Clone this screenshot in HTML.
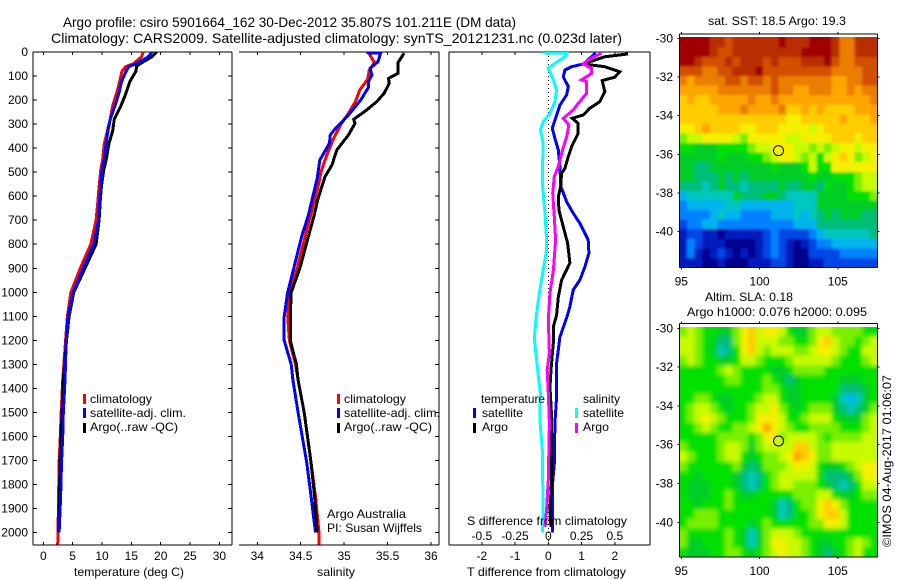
<!DOCTYPE html>
<html lang="en">
<head>
<meta charset="utf-8">
<title>Argo profile</title>
<style>
html,body{margin:0;padding:0;background:#fff;width:900px;height:580px;overflow:hidden}
svg{display:block}
text{font-family:"Liberation Sans",sans-serif;font-size:12px;fill:#000}
.lg{font-size:12px}
.rule{stroke:#000;stroke-width:1;fill:none;shape-rendering:crispEdges}
.prof{fill:none;stroke-width:3;stroke-linejoin:miter;shape-rendering:crispEdges}
</style>
</head>
<body>
<svg id="figure" xmlns="http://www.w3.org/2000/svg" width="900" height="580" viewBox="0 0 900 580">
<defs>
<clipPath id="clip-t"><rect x="33" y="52" width="199" height="493"/></clipPath>
<clipPath id="clip-s"><rect x="239" y="52" width="200" height="493"/></clipPath>
<clipPath id="clip-d"><rect x="449" y="52" width="200" height="493"/></clipPath>
<clipPath id="clip-sst"><rect x="680" y="37" width="198" height="230"/></clipPath>
<clipPath id="clip-sla"><rect x="680" y="327" width="198" height="230"/></clipPath>
<filter id="soft-sst" x="-5%" y="-5%" width="110%" height="110%"><feGaussianBlur stdDeviation="1.2"/></filter>
<filter id="soft-sla" x="-5%" y="-5%" width="110%" height="110%"><feGaussianBlur stdDeviation="2.2"/></filter>
</defs>
<text x="63" y="27" style="font-size:14px" textLength="453" lengthAdjust="spacingAndGlyphs">Argo profile: csiro 5901664_162 30-Dec-2012 35.807S 101.211E (DM data)</text>
<text x="51" y="43" style="font-size:14px" textLength="571" lengthAdjust="spacingAndGlyphs">Climatology: CARS2009. Satellite-adjusted climatology: synTS_20121231.nc (0.023d later)</text>
<g id="plots"></g>

<g>
<rect x="83" y="394" width="3" height="10" fill="#f00"/>
<text x="90" y="403" class="lg" textLength="62" lengthAdjust="spacingAndGlyphs">climatology</text>
<rect x="83" y="408" width="3" height="10" fill="#00f"/>
<text x="90" y="417" class="lg" textLength="96" lengthAdjust="spacingAndGlyphs">satellite-adj. clim.</text>
<rect x="83" y="423" width="3" height="10" fill="#000"/>
<text x="90" y="431" class="lg" textLength="88" lengthAdjust="spacingAndGlyphs">Argo(..raw -QC)</text>
</g>
<g>
<rect x="337" y="394" width="3" height="10" fill="#f00"/>
<text x="344" y="403" class="lg" textLength="62" lengthAdjust="spacingAndGlyphs">climatology</text>
<rect x="337" y="408" width="3" height="10" fill="#00f"/>
<text x="344" y="417" class="lg" textLength="96" lengthAdjust="spacingAndGlyphs">satellite-adj. clim.</text>
<rect x="337" y="423" width="3" height="10" fill="#000"/>
<text x="344" y="431" class="lg" textLength="88" lengthAdjust="spacingAndGlyphs">Argo(..raw -QC)</text>
<text x="327" y="518" class="lg" textLength="79" lengthAdjust="spacingAndGlyphs">Argo Australia</text>
<text x="327" y="532" class="lg" textLength="95" lengthAdjust="spacingAndGlyphs">PI: Susan Wijffels</text>
</g>
<g>
<text x="481" y="403" class="lg" textLength="64" lengthAdjust="spacingAndGlyphs">temperature</text>
<rect x="473" y="408" width="3" height="10" fill="#00f"/>
<text x="482" y="417" class="lg" textLength="41" lengthAdjust="spacingAndGlyphs">satellite</text>
<rect x="473" y="423" width="3" height="10" fill="#000"/>
<text x="482" y="431" class="lg" textLength="26" lengthAdjust="spacingAndGlyphs">Argo</text>
<text x="583" y="403" class="lg" textLength="37" lengthAdjust="spacingAndGlyphs">salinity</text>
<rect x="575" y="408" width="3" height="10" fill="#0ff"/>
<text x="583" y="417" class="lg" textLength="41" lengthAdjust="spacingAndGlyphs">satellite</text>
<rect x="575" y="423" width="3" height="10" fill="#f0f"/>
<text x="583" y="431" class="lg" textLength="26" lengthAdjust="spacingAndGlyphs">Argo</text>
</g>

<text x="74" y="576" textLength="110" lengthAdjust="spacingAndGlyphs">temperature (deg C)</text>
<text x="317" y="576" textLength="38" lengthAdjust="spacingAndGlyphs">salinity</text>
<text x="467" y="576" textLength="159" lengthAdjust="spacingAndGlyphs">T difference from climatology</text>
<text x="467" y="525" textLength="160" lengthAdjust="spacingAndGlyphs">S difference from climatology</text>

<text x="708" y="25" textLength="138" lengthAdjust="spacingAndGlyphs">sat. SST: 18.5 Argo: 19.3</text>
<text x="705" y="301" textLength="88" lengthAdjust="spacingAndGlyphs">Altim. SLA: 0.18</text>
<text x="687" y="316" textLength="180" lengthAdjust="spacingAndGlyphs">Argo h1000: 0.076 h2000: 0.095</text>
<text transform="translate(891 547) rotate(-90)" textLength="172" lengthAdjust="spacingAndGlyphs">©IMOS 04-Aug-2017 01:06:07</text>
</svg>

<script>
// ---------- profile data ----------
const depthTicks = [0,100,200,300,400,500,600,700,800,900,1000,1100,1200,1300,1400,1500,1600,1700,1800,1900,2000];
const tempTicks = [0,5,10,15,20,25,30];
const salTicks = [34,34.5,35,35.5,36];
const salTickLabels = ['34','34.5','35','35.5','36'];
const tDiffTicks = [-2,-1,0,1,2];
const tDiffLabels = ['-2','-1','0','1','2'];
const sDiffTicks = [-0.5,-0.25,0,0.25,0.5];
const sDiffLabels = ['-0.5','-0.25','0','0.25','0.5'];

const tempDepth = [0,20,50,60,80,125,170,225,280,330,380,450,490,560,620,700,800,900,1000,1100,1200,1365,1500,1600,1710,1850,2000,2050];
const tempClim = [17.0,16.75,15.3,14.1,13.4,13.0,12.5,11.8,11.4,10.9,10.4,10.1,9.8,9.5,9.3,9.0,8.1,6.3,4.7,4.1,3.8,3.3,3.05,2.9,2.7,2.6,2.5,2.45];
const tempSat = [18.5,17.9,15.8,14.6,14.1,13.3,12.9,12.2,11.4,11.0,10.7,10.4,10.0,9.8,9.6,9.4,8.6,6.8,5.1,4.2,3.9,3.7,3.4,3.3,3.1,2.95,2.7];
const tempArgo = [19.3,18.5,16.4,15.9,15.8,14.7,14.1,13.2,12.1,11.8,11.2,10.7,10.3,9.9,9.7,9.5,9.0,7.1,5.2,4.4,3.95,3.4,3.2,3.0,2.85,2.75,2.6];

const salClimDepth = [3,44,75,114,158,207,255,297,359,429,491,574,657,768,900,1000,1100,1200,1300,1365,1500,1710,1850,2000,2050];
const salClim = [35.28,35.35,35.29,35.27,35.18,35.13,35.05,34.97,34.88,34.80,34.74,34.69,34.63,34.55,34.46,34.37,34.35,34.37,34.44,34.47,34.54,34.62,34.67,34.71,34.71];
const salSatDepth = [3,5,40,68,96,123,147,200,262,318,345,380,450,526,616,678,768,900,1000,1100,1200,1300,1365,1500,1710,1850,2000];
const salSat = [35.26,35.42,35.39,35.30,35.32,35.28,35.28,35.19,35.05,34.90,34.84,34.83,34.72,34.69,34.63,34.59,34.51,34.42,34.35,34.31,34.31,34.39,34.41,34.47,34.57,34.62,34.67];
const salArgoDepth = [5,44,89,110,130,172,207,244,280,297,345,408,470,519,609,685,778,900,1000,1100,1200,1300,1365,1500,1710,1850,2000];
const salArgo = [35.69,35.62,35.62,35.51,35.52,35.46,35.375,35.25,35.11,35.125,35.05,34.915,34.86,34.78,34.70,34.65,34.58,34.49,34.39,34.38,34.38,34.45,34.47,34.54,34.62,34.66,34.69];

const dTSatDepth = [3,33,50,61,75,103,144,179,221,262,318,359,408,477,560,623,671,713,782,837,894,949,990,1060,1107,1186,1240,1295,1435,1545,1712,1810,1976,2000];
const dTSat = [1.42,1.2,1.05,0.70,0.50,0.45,0.60,0.55,0.35,0.25,0.12,0.20,0.30,0.35,0.38,0.55,0.75,0.95,1.2,1.22,1.1,0.95,0.75,0.65,0.55,0.35,0.30,0.25,0.25,0.20,0.18,0.12,0.12,0.12];
const dTArgoDepth = [8,20,50,61,82,105,119,165,207,234,262,276,297,338,394,435,484,505,560,602,657,712,795,878,949,1020,1095,1144,1211,1323,1394,1519,1781,1906,1976];
const dTArgo = [2.4,1.7,1.05,1.7,2.15,2.0,1.62,1.7,1.55,1.25,1.05,0.72,0.9,0.9,0.7,0.6,0.5,0.4,0.37,0.3,0.32,0.42,0.58,0.65,0.4,0.3,0.25,0.15,0.15,0.08,0.05,0.1,0.1,0.05,0.08];
const dSSatDepth = [3,5,20,47,68,116,158,207,255,290,325,380,463,560,671,782,824,907,990,1086,1190,1282,1419,1531,1656,1768,1893,2000];
const dSSat = [-0.043,0.138,0.125,0.05,0,0.038,0.063,0.05,0.0125,-0.038,-0.058,-0.038,-0.043,-0.043,-0.025,-0.0125,-0.0125,-0.038,-0.063,-0.088,-0.105,-0.088,-0.06,-0.063,-0.045,-0.043,-0.038,-0.045];
const dSArgoDepth = [5,25,50,68,89,116,123,172,214,241,276,304,352,421,477,519,588,685,782,907,1003,1115,1253,1323,1419,1545,1780,1906,1976];
const dSArgo = [0.40,0.325,0.263,0.325,0.325,0.25,0.288,0.288,0.225,0.188,0.113,0.155,0.138,0.10,0.075,0.045,0.033,0.045,0.055,0.038,0.0125,0,0.008,-0.008,0,0.008,0,-0.0125,-0.025];

// ---------- map data (colour-level grids, north to south) ----------
const mapLonTicks = [95,100,105];
const mapLatTicks = [-30,-32,-34,-36,-38,-40];
const argoLon = [101.211];
const argoLat = [-35.807];
const sstAtFloat = [11];
const slaAtFloat = [10];
const sstLevels = [
[17,17,17,17,16,16,15,16,16,16,16,16,16,17,16,16,16,17,17,17,16,14,14,16,16,16],
[17,17,17,17,16,15,15,16,16,16,16,16,16,16,16,16,17,17,17,17,16,14,14,16,16,16],
[17,17,16,15,15,15,16,15,16,16,16,15,16,15,15,15,16,16,16,17,15,14,14,15,15,15],
[15,15,15,14,14,15,15,16,16,16,17,15,15,15,15,15,15,15,15,15,14,14,14,14,15,15],
[14,13,14,14,14,14,15,15,14,15,15,14,15,14,14,14,14,14,14,14,13,13,14,14,15,15],
[13,13,13,13,13,14,14,14,14,14,14,14,15,14,14,13,13,14,14,14,13,13,14,13,14,14],
[12,13,12,12,13,13,13,13,13,14,13,13,14,13,13,13,13,13,13,13,13,13,13,13,13,14],
[12,12,12,12,12,13,13,13,14,13,13,13,13,14,12,12,13,12,13,12,12,12,12,13,13,13],
[12,12,12,12,12,12,12,12,12,12,12,12,12,12,11,11,12,12,12,12,12,13,12,12,12,13],
[11,11,12,13,12,12,12,12,11,11,12,12,12,11,11,11,11,10,11,12,12,12,12,12,12,12],
[9,10,10,11,11,11,11,10,9,11,11,11,11,11,10,10,11,11,11,11,12,12,12,11,12,12],
[8,8,7,7,7,8,8,8,8,9,10,10,11,11,11,10,10,9,10,9,10,11,11,10,11,11],
[7,7,7,7,7,8,7,7,7,8,8,9,10,11,11,10,9,10,8,10,11,12,11,9,10,11],
[7,7,6,6,7,7,7,7,7,7,7,7,8,7,7,7,8,10,8,8,11,11,11,11,11,11],
[7,7,6,6,6,7,6,7,6,7,7,7,7,7,7,7,7,8,7,7,8,8,8,9,10,10],
[6,6,6,5,6,7,6,6,5,6,6,6,6,7,6,6,7,7,6,8,7,7,8,9,10,10],
[4,5,5,5,5,5,5,7,6,6,6,7,7,6,5,5,5,5,7,7,7,7,8,8,8,9],
[3,4,4,4,4,4,5,5,4,4,4,4,4,4,4,5,5,5,7,7,7,7,7,7,7,7],
[3,3,3,3,4,5,4,4,3,3,3,3,4,4,4,5,4,5,6,7,6,7,7,7,6,6],
[2,3,3,4,4,3,3,3,3,3,3,3,3,3,3,4,4,4,6,6,6,6,6,6,6,6],
[1,2,2,1,1,0,1,1,1,1,1,2,3,2,2,2,2,3,4,5,5,5,5,5,5,6],
[1,3,2,1,1,1,0,0,0,0,1,2,3,2,1,0,1,2,3,3,4,4,4,4,4,4],
[1,3,1,0,1,2,1,0,1,0,1,2,3,2,1,0,0,2,2,2,2,3,3,3,3,3],
[1,1,1,0,0,1,0,0,0,1,1,1,2,2,1,0,0,1,1,2,2,2,2,2,2,2]
];
const slaLevels = [
[9,10,9,8,8,7,7,9,11,12,10,11,11,10,8,7,7,9,10,10,9,9,9,9,8,8],
[10,10,9,8,7,6,6,9,11,12,10,10,10,9,9,8,8,9,11,12,10,9,9,8,9,10],
[10,10,9,8,7,5,6,8,11,12,10,9,10,10,10,9,9,10,11,11,10,9,8,8,10,10],
[9,10,9,8,8,7,7,8,10,10,9,8,8,8,9,10,10,10,10,10,9,8,8,8,9,10],
[8,8,8,8,8,9,10,9,8,8,8,8,7,7,8,9,9,9,9,8,8,8,8,8,8,8],
[8,8,8,8,8,8,9,9,8,8,8,9,8,7,6,7,8,8,8,8,8,7,7,7,8,8],
[8,8,8,8,8,8,8,8,8,8,8,9,9,8,7,7,8,8,8,8,8,6,6,6,7,8],
[8,8,9,9,8,7,7,8,8,8,9,10,10,8,7,7,8,8,8,8,7,5,4,5,7,8],
[8,9,10,10,9,8,7,8,8,9,10,10,11,9,8,7,8,9,9,9,7,6,5,6,7,9],
[8,9,10,11,10,9,8,8,8,9,11,11,11,10,8,8,9,10,10,10,8,7,7,7,9,10],
[8,8,9,10,9,8,8,9,9,10,11,13,11,10,9,8,8,9,9,9,9,8,8,8,9,10],
[8,8,8,8,8,9,9,9,9,8,9,11,11,9,10,10,10,10,9,8,9,9,9,9,10,10],
[9,8,8,8,8,9,10,10,9,7,9,10,10,10,10,12,12,10,9,9,10,10,10,10,10,10],
[10,9,8,8,8,9,10,10,8,7,8,9,9,10,11,13,12,11,9,9,10,10,10,10,10,10],
[9,8,8,8,8,8,8,9,7,6,7,9,9,9,10,11,11,10,8,7,7,8,9,10,11,11],
[8,8,7,8,8,8,8,7,6,5,6,8,9,10,10,10,10,10,8,6,6,6,7,9,11,11],
[8,7,7,7,8,8,8,7,6,5,6,8,9,10,10,9,9,9,8,7,6,5,6,8,10,10],
[8,7,7,7,8,8,9,8,7,7,8,8,8,8,8,9,9,9,10,10,8,7,7,8,9,9],
[8,8,7,8,8,8,9,8,8,8,8,8,7,5,6,8,9,9,11,12,11,9,8,8,8,8],
[8,8,9,9,9,8,8,8,8,8,8,8,7,5,6,8,8,9,11,12,12,10,8,8,8,8],
[8,9,9,9,9,8,8,8,8,7,8,9,8,8,8,8,8,9,9,11,11,10,8,8,8,8],
[9,8,8,8,8,8,9,8,7,5,7,9,10,10,10,9,8,8,8,8,8,8,8,8,8,8],
[9,7,7,8,8,8,9,8,7,5,7,9,11,11,10,10,9,8,7,7,8,8,9,10,9,8],
[8,7,7,7,8,8,9,9,8,7,8,9,10,11,10,10,9,8,7,6,7,8,9,10,8,8]
];

// ---------- colour scale ----------
const palette = ['#00008c','#001ebe','#0046e6','#0082ff','#00b4f0','#00c8be','#00be78','#00cd28','#00e100','#78f000','#c8fa00','#f5f000','#ffcd00','#ffa500','#eb7d00','#d25000','#b92d00','#a00000'];
function levelColor(v){
  const i = Math.max(0, Math.min(palette.length-1, Math.round(v)));
  return palette[i];
}

// ---------- axis functions ----------
const plotTop = 52, plotBottom = 545;
const yDepth = d => 52 + d*0.2403;
const xTemp = t => 43.3 + t*5.87;
const xSal = s => 257.3 + (s-34)*86.85;
const xDT = t => 548.3 + t*33.25;
const xDS = s => 548.3 + s*133;
const xLon = lon => 681.3 + (lon-95)*15.65;
const ySst = lat => 38.3 + (-30-lat)*19.34;
const ySla = lat => 328.3 + (-30-lat)*19.4;

// ---------- helpers ----------
const NS = 'http://www.w3.org/2000/svg';
const root = document.getElementById('plots');
function make(tag, attrs, parent, txt){
  const e = document.createElementNS(NS, tag);
  for (const k in attrs) e.setAttribute(k, attrs[k]);
  if (txt !== undefined) e.textContent = txt;
  (parent || root).appendChild(e);
  return e;
}
function segment(parent, x1, y1, x2, y2){
  const l = make('line', {x1:x1, y1:y1, x2:x2, y2:y2, class:'rule'}, parent);
  
  
  return l;
}
function tickLabel(parent, x, y, anchor, str){
  const t = make('text', {x:x, y:y, 'text-anchor':anchor}, parent, str);
  
  
  return t;
}
function profile(parent, name, color, depths, values, xf, clipId){
  const n = Math.min(depths.length, values.length);
  const pts = [];
  for (let i = 0; i < n; i++) pts.push(xf(values[i]).toFixed(1) + ',' + yDepth(depths[i]).toFixed(1));
  const p = make('polyline', {points:pts.join(' '), class:'prof', stroke:color, 'clip-path':'url(#' + clipId + ')'}, parent);
  
  
  return p;
}
function panel(name, left, right, hasLeft, hasYTicks, yLabels){
  const g = make('g', {});
  
  
  segment(g, left, plotTop, right, plotTop);
  segment(g, left, plotBottom, right, plotBottom);
  segment(g, right, plotTop, right, plotBottom);
  if (hasLeft) segment(g, left, plotTop, left, plotBottom);
  if (hasYTicks) depthTicks.forEach(d => {
    segment(g, left, yDepth(d), left+4, yDepth(d));
    segment(g, right-4, yDepth(d), right, yDepth(d));
    if (yLabels) tickLabel(g, 28, yDepth(d)+4, 'end', String(d));
  });
  return g;
}

// ---------- temperature panel ----------
const gT = panel('temperature-panel', 33, 232, true, true, true);
tempTicks.forEach(v => {
  segment(gT, xTemp(v), plotBottom-3, xTemp(v), plotBottom);
  segment(gT, xTemp(v), plotTop, xTemp(v), plotTop+3);
  tickLabel(gT, xTemp(v), 560, 'middle', String(v));
});
profile(gT, 'temperature-climatology-line', '#f00', tempDepth, tempClim, xTemp, 'clip-t');
profile(gT, 'temperature-argo-line', '#000', tempDepth, tempArgo, xTemp, 'clip-t');
profile(gT, 'temperature-satellite-line', '#00f', tempDepth, tempSat, xTemp, 'clip-t');

// ---------- salinity panel ----------
const gS = panel('salinity-panel', 239, 439, false, false, false);
salTicks.forEach((v, i) => {
  segment(gS, xSal(v), plotBottom-3, xSal(v), plotBottom);
  segment(gS, xSal(v), plotTop, xSal(v), plotTop+3);
  tickLabel(gS, xSal(v), 560, 'middle', salTickLabels[i]);
});
depthTicks.forEach(d => {
  segment(gS, 435, yDepth(d), 439, yDepth(d));
});
profile(gS, 'salinity-climatology-line', '#f00', salClimDepth, salClim, xSal, 'clip-s');
profile(gS, 'salinity-satellite-line', '#00f', salSatDepth, salSat, xSal, 'clip-s');
profile(gS, 'salinity-argo-line', '#000', salArgoDepth, salArgo, xSal, 'clip-s');

// ---------- difference panel ----------
const gD = panel('difference-panel', 449, 650, true, false, false);
tDiffTicks.forEach((v, i) => {
  segment(gD, xDT(v), plotBottom-3, xDT(v), plotBottom);
  segment(gD, xDT(v), plotTop, xDT(v), plotTop+3);
  tickLabel(gD, xDT(v), 560, 'middle', tDiffLabels[i]);
});
sDiffTicks.forEach((v, i) => {
  tickLabel(gD, xDS(v), 540, 'middle', sDiffLabels[i]);
});
const zeroLine = make('line', {x1:xDT(0), y1:plotTop, x2:xDT(0), y2:plotBottom, stroke:'#000', 'stroke-width':1, 'stroke-dasharray':'1 3', 'shape-rendering':'crispEdges'}, gD);


profile(gD, 't-difference-satellite-line', '#00f', dTSatDepth, dTSat, xDT, 'clip-d');
profile(gD, 't-difference-argo-line', '#000', dTArgoDepth, dTArgo, xDT, 'clip-d');
profile(gD, 's-difference-satellite-line', '#0ff', dSSatDepth, dSSat, xDS, 'clip-d');
profile(gD, 's-difference-argo-line', '#f0f', dSArgoDepth, dSArgo, xDS, 'clip-d');

// ---------- maps ----------
const lonWest = 94.875, lonEast = 107.53;
function drawMap(name, levels, yLat, latNorth, latSouth, clipId, markerLevel, filterId){
  const g = make('g', {});
  
  
  const rows = levels.length;
  const holder = make('g', {'clip-path':'url(#' + clipId + ')'}, g);
  
  
  const cells = make('g', {filter:'url(#' + filterId + ')'}, holder);
  
  
  levels.forEach((row, r) => {
    const dLat = (latNorth-latSouth)/rows;
    const dLon = (lonEast-lonWest)/row.length;
    row.forEach((v, c) => {
      // Edge cells overhang the clip so the softening does not fade to white.
      const x0 = xLon(lonWest + c*dLon) - (c === 0 ? 10 : 0);
      const x1 = xLon(lonWest + (c+1)*dLon) + (c === row.length-1 ? 10 : 0);
      const y0 = yLat(latNorth - r*dLat) - (r === 0 ? 10 : 0);
      const y1 = yLat(latNorth - (r+1)*dLat) + (r === rows-1 ? 10 : 0);
      const cell = make('rect', {x:x0.toFixed(2), y:y0.toFixed(2), width:(x1-x0+0.6).toFixed(2), height:(y1-y0+0.6).toFixed(2), fill:levelColor(v), 'shape-rendering':'crispEdges'}, cells);
      
      
    });
  });
  const L = 679.5, R = 877.5, T = yLat(latNorth)-3.5, B = yLat(latSouth);
  segment(g, L, T, R, T);
  segment(g, L, B, R, B);
  segment(g, L, T, L, B);
  segment(g, R, T, R, B);
  mapLonTicks.forEach(v => {
    segment(g, xLon(v), B, xLon(v), B+2);
    segment(g, xLon(v), T-2, xLon(v), T);
    tickLabel(g, xLon(v), B+18, 'middle', String(v));
  });
  mapLatTicks.forEach(v => {
    segment(g, L-2, yLat(v), L, yLat(v));
    segment(g, R, yLat(v), R+2, yLat(v));
    tickLabel(g, 673, yLat(v)+4, 'end', String(v));
  });
  const marker = make('circle', {cx:xLon(argoLon[0]), cy:yLat(argoLat[0]), r:5, fill:levelColor(markerLevel), stroke:'#000', 'stroke-width':1}, g);
  
  
}
drawMap('sst-map', sstLevels, ySst, -29.97, -41.85, 'clip-sst', sstAtFloat[0], 'soft-sst');
drawMap('sla-map', slaLevels, ySla, -29.93, -41.8, 'clip-sla', slaAtFloat[0], 'soft-sla');
</script>
</body>
</html>
